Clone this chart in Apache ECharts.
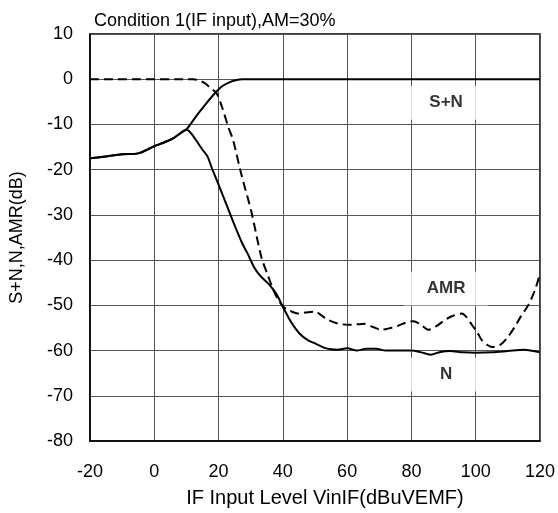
<!DOCTYPE html>
<html>
<head>
<meta charset="utf-8">
<script src="https://cdn.jsdelivr.net/npm/echarts@6/dist/echarts.min.js"></script>
<style>html,body{margin:0;padding:0;background:#fff;}#c{width:558px;height:513px;}</style>
</head>
<body>
<div id="c"></div>
<script>
var xTicks = [-20, 0, 20, 40, 60, 80, 100, 120];
var yTicks = [-80, -70, -60, -50, -40, -30, -20, -10, 0, 10];

var snData = [[-20,-17.5],[-15,-17.1],[-10,-16.6],[-5,-16.4],[-2,-15.5],[0,-14.8],[3,-14],[6,-13],[8,-12],[10,-11.1],
  [13,-8.2],[16,-5.5],[19,-3],[21,-1.6],[23,-0.8],[25,-0.3],[27.5,0],[35,0],[60,0],[90,0],[120,0]];

var nData = [[-20,-17.5],[-15,-17.1],[-10,-16.6],[-5,-16.4],[-2,-15.5],[0,-14.8],[3,-14],[6,-13],[8,-12],[10,-11.1],
  [11.5,-12],[13,-13.5],[15,-15.6],[16.5,-17],[18,-19.8],[20,-23.3],[22.5,-27.8],[25,-32.3],[27.5,-36.5],[29,-38.5],
  [31,-41.5],[33,-43.5],[35.5,-45.2],[38,-47.5],[40,-50.3],[42,-53],[44,-55.2],[46,-56.8],[48,-57.8],[50,-58.4],
  [53,-59.4],[55,-59.7],[57,-59.8],[60,-59.5],[63,-60],[66,-59.6],[69,-59.6],[72,-60],[76,-60],[80,-60],[83,-60.4],
  [86,-60.9],[89,-60.3],[92,-60.1],[96,-60.4],[100,-60.5],[105,-60.4],[110,-60.1],[115,-59.8],[120,-60.4]];

var amrData = [[-20,0],[12,0],[14,-0.3],[16,-1],[17.5,-2],[19.3,-3],[21,-6],[23,-10.5],[24.5,-13.4],[27,-20.8],
  [30.2,-29.3],[33.3,-39.3],[35.4,-43.5],[37,-46.5],[38.5,-48.7],[40,-50.2],[41.6,-51],[44.7,-51.8],[47,-51.6],
  [50,-51.4],[52,-52.2],[54,-53.2],[57,-54],[60.3,-54.3],[63,-54.2],[65.4,-54.1],[68,-54.8],[70.7,-55.4],[73,-55.1],
  [75.9,-54.5],[78,-53.9],[80.6,-53.5],[83,-54.3],[85.3,-55.4],[88,-54.5],[90.5,-53.2],[93,-52.3],[95.7,-51.8],
  [97,-52.5],[98.8,-54.3],[100.5,-56],[101.9,-57.7],[103.5,-58.7],[105,-59.2],[107.5,-58.8],[110,-57],[112.2,-54.7],
  [114,-52.5],[116.4,-49.9],[118.5,-46.5],[120,-43]];

var curveLabels = ['S+N', 'AMR', 'N'];
var curveLabelAt = [[90.8,-5.2],[90.8,-46.3],[90.8,-65.3]];

var font = 'Liberation Sans, Arial, sans-serif';
var chart = echarts.init(document.getElementById('c'), null, {renderer: 'canvas'});
chart.setOption({
  animation: false,
  backgroundColor: '#fff',
  title: {
    text: 'Condition 1(IF input),AM=30%',
    left: 89, top: 7,
    textStyle: {fontFamily: font, fontSize: 18, fontWeight: 'normal', color: '#000'}
  },
  grid: {left: 89, right: 17, top: 34, bottom: 71, show: true, borderColor: '#000', borderWidth: 1.5, backgroundColor: 'transparent'},
  xAxis: {
    type: 'value', min: -20, max: 120, interval: 20,
    name: 'IF Input Level VinIF(dBuVEMF)', nameLocation: 'middle', nameGap: 47,
    nameTextStyle: {fontFamily: font, fontSize: 20, color: '#000', padding: [0, 0, 0, 20]},
    axisLine: {show: true, onZero: false, lineStyle: {color: '#000', width: 1.5}},
    axisTick: {show: false},
    axisLabel: {margin: 22, fontFamily: font, fontSize: 18, color: '#000'},
    splitLine: {show: true, lineStyle: {color: '#555', width: 1}}
  },
  yAxis: {
    type: 'value', min: -80, max: 10, interval: 10,
    name: 'S+N,N,AMR(dB)', nameLocation: 'middle', nameGap: 64,
    nameTextStyle: {fontFamily: font, fontSize: 18, color: '#000'},
    axisLine: {show: true, onZero: false, lineStyle: {color: '#000', width: 1.5}},
    axisTick: {show: false},
    axisLabel: {margin: 17, fontFamily: font, fontSize: 18, color: '#000'},
    splitLine: {show: true, lineStyle: {color: '#555', width: 1}}
  },
  series: [
    {type: 'line', name: 'S+N', data: snData, showSymbol: false, smooth: 0.3, lineStyle: {color: '#000', width: 2}},
    {type: 'line', name: 'N', data: nData, showSymbol: false, smooth: 0.3, lineStyle: {color: '#000', width: 2}},
    {type: 'line', name: 'AMR', data: amrData, showSymbol: false, smooth: 0.3, lineStyle: {color: '#000', width: 2, type: [9, 5]}},
    {type: 'scatter', data: curveLabelAt.map(function (p, i) { return {value: p, name: curveLabels[i]}; }),
      symbolSize: 0, silent: true, z: 5,
      label: {show: true, position: 'inside', formatter: '{b}', fontFamily: font, fontSize: 17, fontWeight: 'bold', color: '#000',
        backgroundColor: '#fff', width: 84, height: 34, lineHeight: 34, align: 'center', verticalAlign: 'middle'}}
  ]
});
</script>
</body>
</html>
